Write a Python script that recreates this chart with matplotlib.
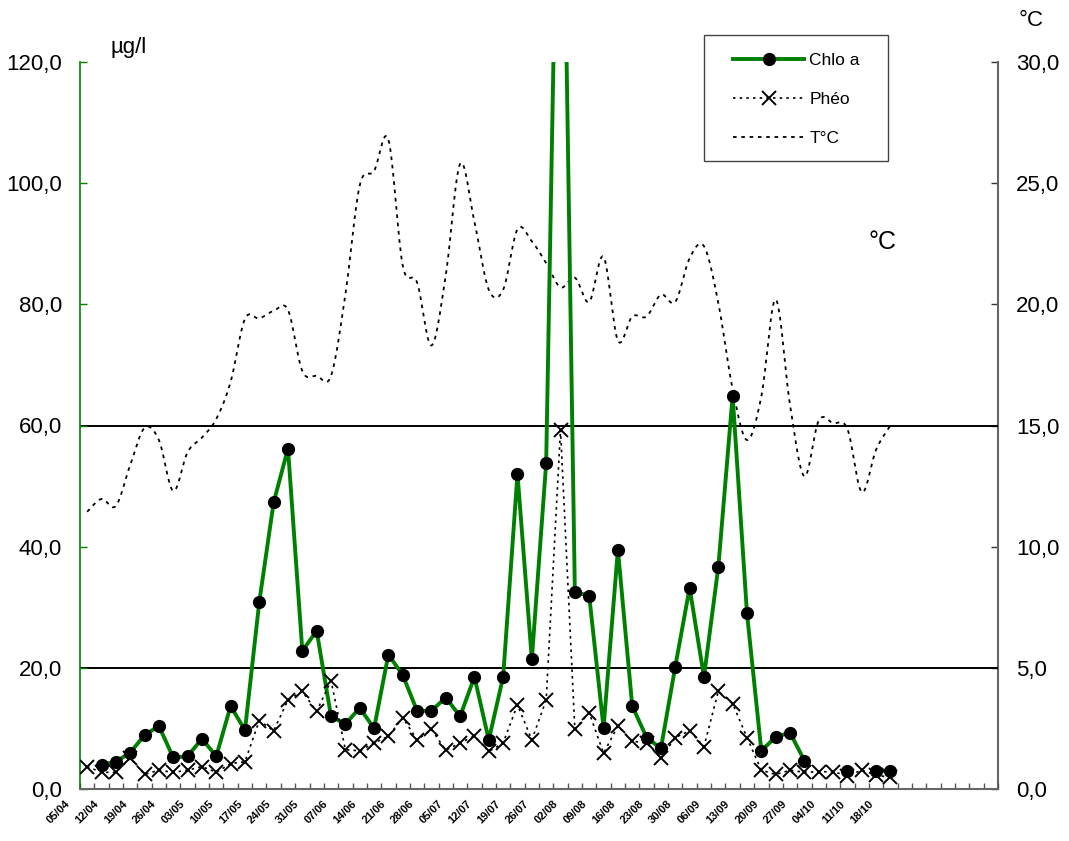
import numpy as np
import matplotlib
matplotlib.use("Agg")
import matplotlib.pyplot as plt
from matplotlib.ticker import FuncFormatter
from matplotlib.transforms import ScaledTranslation
from matplotlib.lines import Line2D
from matplotlib.patches import Rectangle

plt.rcParams['font.family'] = ['Liberation Sans', 'DejaVu Sans']

nan = np.nan
# tick labels (one every second sample)
date_labels = ["05/04", "12/04", "19/04", "26/04", "03/05", "10/05", "17/05", "24/05",
               "31/05", "07/06", "14/06", "21/06", "28/06", "05/07", "12/07", "19/07",
               "26/07", "02/08", "09/08", "16/08", "23/08", "30/08", "06/09", "13/09",
               "20/09", "27/09", "04/10", "11/10", "18/10"]

chlo_a = [nan, 4.0, 4.5, 6.0, 8.9, 10.4, 5.2, 5.4, 8.3, 5.4,
          13.7, 9.7, 30.9, 47.3, 56.2, 22.8, 26.1, 12.0, 10.7, 13.4,
          10.0, 22.2, 18.8, 12.9, 12.9, 15.1, 12.0, 18.5, 8.1, 18.5,
          52.0, 21.4, 53.8, 185.0, 32.5, 31.9, 10.1, 39.5, 13.7, 8.5,
          6.7, 20.2, 33.2, 18.5, 36.6, 64.9, 29.0, 6.3, 8.6, 9.3,
          4.7, nan, nan, 3.0, nan, 3.0, 3.0]

pheo = [3.7, 2.75, 2.75, 5.1, 2.4, 3.1, 2.75, 3.1, 3.7, 2.75,
        4.2, 4.5, 11.3, 9.6, 14.7, 16.1, 12.8, 17.9, 6.5, 6.3,
        7.6, 8.7, 11.8, 8.1, 9.85, 6.4, 7.6, 8.75, 6.2, 7.6,
        13.9, 8.1, 14.7, 59.3, 9.85, 12.6, 5.9, 10.4, 7.9, 7.6,
        5.1, 8.5, 9.6, 7.0, 16.1, 14.1, 8.5, 3.1, 2.4, 3.1,
        2.75, 2.85, 2.85, 2.2, 3.1, 2.3, 1.9]

temp_c = [11.44, 11.97, 11.68, 13.37, 14.9, 14.4, 12.3, 13.9, 14.5, 15.27,
          16.8, 19.4, 19.42, 19.73, 19.77, 17.25, 17.05, 17.05, 20.4, 24.9,
          25.5, 26.8, 21.6, 20.9, 18.3, 21.2, 25.8, 23.4, 20.6, 20.6,
          23.1, 22.6, 21.7, 20.7, 21.1, 20.1, 21.96, 18.5, 19.5, 19.5,
          20.4, 20.1, 21.9, 22.4, 20.06, 16.5, 14.4, 16.2, 20.2, 15.85,
          12.9, 15.2, 15.1, 14.86, 12.25, 14.0, 15.0]

threshold_lines = [20, 60]
n_slots = 64

x = np.arange(len(chlo_a))


def smooth(xs, ys, k=16):
    """Excel-like smoothed line (Bezier with tension 1/6)."""
    xs = np.asarray(xs, float)
    ys = np.asarray(ys, float)
    px = np.concatenate([[xs[0]], xs, [xs[-1]]])
    py = np.concatenate([[ys[0]], ys, [ys[-1]]])
    ox, oy = [], []
    t = np.linspace(0, 1, k, endpoint=False)
    for i in range(1, len(px) - 2):
        p0x, p1x, p2x, p3x = px[i - 1], px[i], px[i + 1], px[i + 2]
        p0y, p1y, p2y, p3y = py[i - 1], py[i], py[i + 1], py[i + 2]
        c1x, c1y = p1x + (p2x - p0x) / 6, p1y + (p2y - p0y) / 6
        c2x, c2y = p2x - (p3x - p1x) / 6, p2y - (p3y - p1y) / 6
        b0 = (1 - t) ** 3
        b1 = 3 * (1 - t) ** 2 * t
        b2 = 3 * (1 - t) * t ** 2
        b3 = t ** 3
        ox.extend(b0 * p1x + b1 * c1x + b2 * c2x + b3 * p2x)
        oy.extend(b0 * p1y + b1 * c1y + b2 * c2y + b3 * p2y)
    ox.append(xs[-1])
    oy.append(ys[-1])
    return np.array(ox), np.array(oy)


fig = plt.figure(figsize=(10.69, 8.41), dpi=100)
ax = fig.add_axes([80 / 1069, 1 - 789 / 841, 918 / 1069, 727 / 841])
ax2 = ax.twinx()
ax.set_zorder(ax2.get_zorder() + 1)
ax.patch.set_visible(False)

GREEN = "#008000"
fmt = FuncFormatter(lambda v, p: f"{v:.1f}".replace(".", ","))

# temperature (right axis)
sx, sy = smooth(x, temp_c)
ax2.plot(sx, sy, color="black", lw=1.3, linestyle=(0, (2.0, 2.6)))
ax2.set_ylim(0, 30)
ax2.set_yticks(np.arange(0, 31, 5))
ax2.yaxis.set_major_formatter(fmt)

# threshold lines
for v in threshold_lines:
    ax.axhline(v, color="black", lw=1.4, zorder=1)

# Chlo a
ax.plot(x, chlo_a, color=GREEN, lw=2.8, marker="o", markersize=8.5,
        markerfacecolor="black", markeredgecolor="black", zorder=3)
# Phéo
ax.plot(x, pheo, color="black", lw=1.2, linestyle=(0, (1.5, 2.5)), marker="x",
        markersize=9.5, markeredgewidth=1.4, zorder=4)

ax.set_xlim(-0.5, n_slots - 0.5)
ax.set_ylim(0, 120)
ax.set_yticks(np.arange(0, 121, 20))
ax.yaxis.set_major_formatter(fmt)

# x ticks: marks at category boundaries, labels every second sample
ax.set_xticks(np.arange(-0.5, n_slots, 1))
ax.set_xticklabels([])
ax.set_xticks(x[::2], minor=True)
ax.set_xticklabels(date_labels, minor=True, rotation=45, ha="right",
                   fontsize=8, fontweight="bold")
ax.tick_params(axis="x", which="minor", length=0, pad=7)
ax.tick_params(axis="x", which="major", direction="in", length=4,
               color="#555555", width=1)
off = ScaledTranslation(-11 / 72, 0, fig.dpi_scale_trans)
for lab in ax.get_xticklabels(minor=True):
    lab.set_transform(lab.get_transform() + off)

ax.tick_params(axis="y", direction="in", length=5, color=GREEN, width=1,
               labelsize=16, pad=13)
ax2.tick_params(axis="y", direction="in", length=5, color="#333333", width=1,
                labelsize=16, pad=13)

for a in (ax, ax2):
    a.spines["top"].set_visible(False)
ax.spines["left"].set_color(GREEN)
ax.spines["left"].set_linewidth(1.2)
ax.spines["right"].set_visible(False)
ax2.spines["left"].set_visible(False)
ax2.spines["right"].set_color("#666666")
ax2.spines["right"].set_linewidth(1.5)
ax2.spines["bottom"].set_visible(False)
ax.spines["bottom"].set_color("#666666")
ax.spines["bottom"].set_linewidth(1.5)

# unit labels
fig.text(110 / 1069, 1 - 47 / 841, "µg/l", fontsize=16, va="center", ha="left")
fig.text(1031 / 1069, 1 - 20 / 841, "°C", fontsize=16, va="center", ha="center")
fig.text(883 / 1069, 1 - 242 / 841, "°C", fontsize=18, va="center", ha="center")

# legend
fig.patches.append(Rectangle((704 / 1069, 1 - 161 / 841), 184 / 1069, 126 / 841,
                             transform=fig.transFigure, fill=False,
                             edgecolor="#444444", lw=1.0))
handles = [
    Line2D([], [], color=GREEN, lw=2.8, marker="o", markersize=8.5,
           markerfacecolor="black", markeredgecolor="black"),
    Line2D([], [], color="black", lw=1.2, linestyle=(0, (1.5, 2.5)), marker="x",
           markersize=9.5, markeredgewidth=1.4),
    Line2D([], [], color="black", lw=1.3, linestyle=(0, (2.0, 2.6))),
]
fig.legend(handles, ["Chlo a", "Phéo", "T°C"], loc="upper left",
           bbox_to_anchor=(733 / 1069, 1 - 52.5 / 841), frameon=False,
           borderpad=0, borderaxespad=0, handlelength=4.1, handletextpad=0.3,
           labelspacing=1.38, fontsize=12.5)

fig.savefig("out.png", dpi=100)
